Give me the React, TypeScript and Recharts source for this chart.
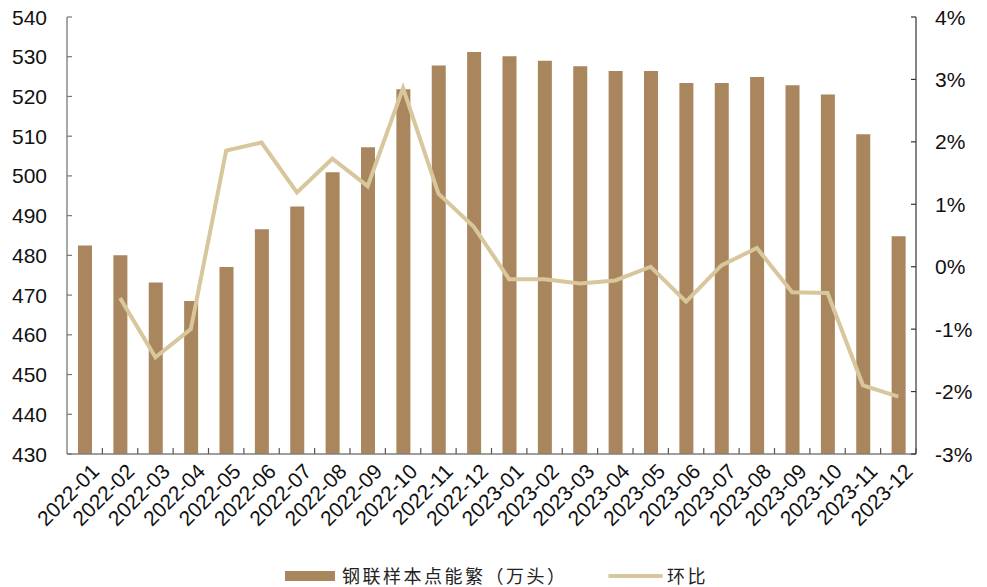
import React from 'react';
import { ComposedChart, Bar, Line, XAxis, YAxis, Legend } from 'recharts';

const categories = ['2022-01','2022-02','2022-03','2022-04','2022-05','2022-06','2022-07','2022-08','2022-09','2022-10','2022-11','2022-12','2023-01','2023-02','2023-03','2023-04','2023-05','2023-06','2023-07','2023-08','2023-09','2023-10','2023-11','2023-12'];
const sowStock = [482.5,480.0,473.2,468.5,477.1,486.6,492.3,500.9,507.2,521.8,527.8,531.2,530.1,529.0,527.6,526.4,526.4,523.4,523.4,524.9,522.8,520.5,510.5,484.8];
const momPct: (number | null)[] = [null,-0.50,-1.45,-1.00,1.86,1.99,1.19,1.73,1.29,2.86,1.17,0.64,-0.20,-0.20,-0.27,-0.22,0.00,-0.56,0.02,0.30,-0.41,-0.42,-1.90,-2.08];
const leftTicks = [430,440,450,460,470,480,490,500,510,520,530,540];
const rightTicks = [-3,-2,-1,0,1,2,3,4];
const barName = '钢联样本点能繁（万头）';
const lineName = '环比';

const data = categories.map((c, i) => ({ month: c, stock: sowStock[i], mom: momPct[i] }));

const CHART_W = 987;
const CHART_H = 587;
const LEFT_W = 67;
const RIGHT_W = 71;
const BAND = (CHART_W - LEFT_W - RIGHT_W) / categories.length;

const BAR_COLOR = '#A9865D';
const LINE_COLOR = '#D8C69C';
const FONT = "'Liberation Sans', Arial, sans-serif";

const LegendContent = () => (
  <div style={{ position: 'relative', width: CHART_W, height: 24, fontFamily: '"Noto Sans CJK SC", sans-serif', fontSize: 18, color: '#222', lineHeight: '24px' }}>
    <span style={{ position: 'absolute', left: 285, top: 8, width: 50, height: 10, background: BAR_COLOR }} />
    <span style={{ position: 'absolute', left: 342, top: 0, letterSpacing: 2.5, whiteSpace: 'nowrap' }}>{barName}</span>
    <span style={{ position: 'absolute', left: 608, top: 11, width: 55, height: 4, background: LINE_COLOR, borderRadius: 2 }} />
    <span style={{ position: 'absolute', left: 667, top: 0, letterSpacing: 2.5, whiteSpace: 'nowrap' }}>{lineName}</span>
  </div>
);

const XTick = (props: any) => {
  const { x, y, payload } = props;
  const ax = x + 5;
  const ay = y + 8;
  const bx = x + BAND / 2;
  return (
    <g>
      <line x1={bx} x2={bx} y1={y} y2={y - 6} stroke="#555" strokeWidth={1.2} />
      <text x={ax} y={ay} transform={`rotate(-45 ${ax} ${ay})`} textAnchor="end" dominantBaseline="hanging" fontFamily={FONT} fontSize={21} fill="#111">
        {payload.value}
      </text>
    </g>
  );
};

const LeftTick = (props: any) => {
  const { x, y, payload } = props;
  return (
    <g>
      <line x1={x} x2={x + 5} y1={y} y2={y} stroke="#777" strokeWidth={1.2} />
      <text x={x - 20} y={y} textAnchor="end" dominantBaseline="central" fontFamily={FONT} fontSize={21} fill="#111">{payload.value}</text>
    </g>
  );
};

const RightTick = (props: any) => {
  const { x, y, payload } = props;
  return (
    <g>
      <line x1={x - 5} x2={x} y1={y} y2={y} stroke="#333" strokeWidth={1.2} />
      <text x={x + 19} y={y} textAnchor="start" dominantBaseline="central" fontFamily={FONT} fontSize={21} fill="#111">{`${payload.value}%`}</text>
    </g>
  );
};

export default function App() {
  return (
    <div style={{ position: 'absolute', left: 0, top: 0 }}>
      <ComposedChart width={CHART_W} height={CHART_H} data={data} margin={{ top: 17, right: 0, bottom: 0, left: 0 }}>
        <XAxis dataKey="month" height={109} tick={<XTick />} tickLine={false} tickSize={0} tickMargin={0} interval={0} axisLine={{ stroke: '#7f7f7f', strokeWidth: 1.5 }} />
        <YAxis yAxisId="left" orientation="left" width={LEFT_W} domain={[430, 540]} ticks={leftTicks} allowDataOverflow tickLine={false} tickSize={0} tickMargin={0} axisLine={{ stroke: '#8a8a8a', strokeWidth: 1.5 }} tick={<LeftTick />} />
        <YAxis yAxisId="right" orientation="right" width={RIGHT_W} domain={[-3, 4]} ticks={rightTicks} allowDataOverflow tickLine={false} tickSize={0} tickMargin={0} axisLine={{ stroke: '#333', strokeWidth: 1.2 }} tick={<RightTick />} />
        <Bar yAxisId="left" dataKey="stock" name={barName} fill={BAR_COLOR} barSize={14} isAnimationActive={false} />
        <Line yAxisId="right" dataKey="mom" name={lineName} stroke={LINE_COLOR} strokeWidth={4} dot={false} connectNulls={false} type="linear" isAnimationActive={false} />
        <Legend verticalAlign="bottom" height={24} content={<LegendContent />} />
      </ComposedChart>
    </div>
  );
}
